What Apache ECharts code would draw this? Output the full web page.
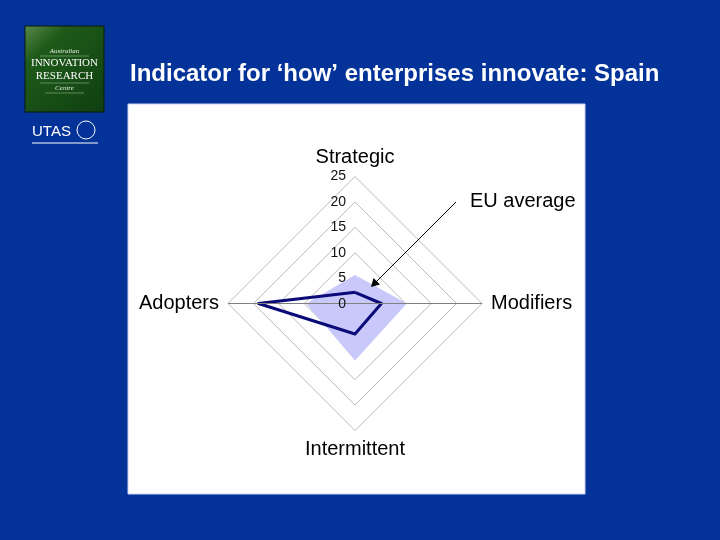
<!DOCTYPE html>
<html>
<head>
<meta charset="utf-8">
<script src="https://cdn.jsdelivr.net/npm/echarts@6/dist/echarts.min.js"></script>
<style>
html,body{margin:0;padding:0;background:#033399;}
#chart{width:720px;height:540px;}
</style>
</head>
<body>
<div id="chart"></div>
<script>
// ECharts radar runs counter-clockwise from the top: Strategic, Adopters, Intermittent, Modifiers
const indicators = ['Strategic', 'Adopters', 'Intermittent', 'Modifiers'];
const spainValues = [2.2, 19.0, 6.0, 5.2];
const euValues = [5.6, 9.6, 11.2, 10.2];
const axisMax = 25;
const minTickLabel = '0';
const titleText = 'Indicator for \u2018how\u2019 enterprises innovate: Spain';
const annotationText = 'EU average';

const CX = 355, CY = 303.5, R = 127;
const chart = echarts.init(document.getElementById('chart'), null, {renderer: 'canvas'});
const labelFont = '14px "Liberation Sans", Arial, sans-serif';

const option = {
  backgroundColor: '#033399',
  animation: false,
  graphic: [
    {type: 'rect', z: -10, shape: {x: 128, y: 104, width: 457, height: 390}, style: {fill: '#ffffff', stroke: '#c8d4f0', lineWidth: 1}},
    {type: 'text', left: 130, top: 62, style: {text: titleText, fill: '#ffffff', font: 'bold 24px "Liberation Sans", Arial, sans-serif'}},
    // AIRC logo
    {type: 'rect', shape: {x: 25, y: 26, width: 79, height: 86}, style: {fill: new echarts.graphic.LinearGradient(0, 0, 1, 1, [{offset: 0, color: '#5a8a4a'}, {offset: 0.25, color: '#1f5a1a'}, {offset: 1, color: '#0f3f10'}]), stroke: '#0a1a0a', lineWidth: 1}},
    {type: 'text', x: 64.5, y: 51, style: {text: 'Australian', fill: '#e8f0e0', font: 'italic 7px "Liberation Serif", serif', align: 'center', verticalAlign: 'middle'}},
    {type: 'text', x: 64.5, y: 63, style: {text: 'INNOVATION', fill: '#ffffff', font: '11px "Liberation Serif", serif', align: 'center', verticalAlign: 'middle'}},
    {type: 'text', x: 64.5, y: 76, style: {text: 'RESEARCH', fill: '#ffffff', font: '11px "Liberation Serif", serif', align: 'center', verticalAlign: 'middle'}},
    {type: 'text', x: 64.5, y: 88, style: {text: 'Centre', fill: '#e8f0e0', font: 'italic 7px "Liberation Serif", serif', align: 'center', verticalAlign: 'middle'}},
    {type: 'line', shape: {x1: 40, y1: 56, x2: 89, y2: 56}, style: {stroke: '#a8c8a0', lineWidth: 0.5}},
    {type: 'line', shape: {x1: 40, y1: 83, x2: 89, y2: 83}, style: {stroke: '#a8c8a0', lineWidth: 0.5}},
    {type: 'line', shape: {x1: 45, y1: 93, x2: 84, y2: 93}, style: {stroke: '#a8c8a0', lineWidth: 0.5}},
    // UTAS logo
    {type: 'text', x: 32, y: 132, style: {text: 'UTAS', fill: '#ffffff', font: '15px "Liberation Sans", Arial, sans-serif', verticalAlign: 'middle'}},
    {type: 'circle', shape: {cx: 86, cy: 130, r: 9}, style: {fill: 'none', stroke: '#ffffff', lineWidth: 1}},
    {type: 'line', shape: {x1: 32, y1: 143, x2: 98, y2: 143}, style: {stroke: '#ffffff', lineWidth: 1}},
    // axis line across
    {type: 'line', z: 5, shape: {x1: CX - R, y1: CY, x2: CX + R, y2: CY}, style: {stroke: '#808080', lineWidth: 1}},
    // centre tick label
    {type: 'text', z: 20, x: CX - 9, y: CY + 1, style: {text: minTickLabel, fill: '#111111', font: labelFont, align: 'right', verticalAlign: 'middle'}},
    // annotation
    {type: 'text', x: 470, y: 201, z: 20, style: {text: annotationText, fill: '#000000', font: '20px "Liberation Sans", Arial, sans-serif', verticalAlign: 'middle'}},
    {type: 'line', z: 20, shape: {x1: 456, y1: 202, x2: 373, y2: 285}, style: {stroke: '#000000', lineWidth: 1}},
    {type: 'polygon', z: 20, shape: {points: [[371, 287], [373.5, 278], [380, 284.5]]}, style: {fill: '#000000'}}
  ],
  radar: {
    center: [CX, CY],
    radius: R,
    startAngle: 90,
    shape: 'polygon',
    splitNumber: 5,
    nameGap: 9,
    axisName: {color: '#000000', fontSize: 20, fontFamily: '"Liberation Sans", Arial, sans-serif'},
    splitArea: {show: false},
    splitLine: {lineStyle: {color: '#8a8a8a', width: 0.6}},
    axisLine: {show: false},
    axisTick: {show: false},
    axisLabel: {show: false},
    indicator: indicators.map((n, i) => ({
      name: n, min: 0, max: axisMax,
      axisLabel: i === 0 ? {show: true, showMinLabel: true, color: '#111111', fontSize: 14, fontFamily: '"Liberation Sans", Arial, sans-serif', margin: 9, padding: [3, 0, 0, 0]} : {show: false}
    }))
  },
  series: [
    {
      type: 'radar',
      symbol: 'none',
      z: 2,
      data: [{value: euValues, name: 'EU average', lineStyle: {width: 0, opacity: 0}, areaStyle: {color: '#c8c8fa', opacity: 1}}]
    },
    {
      type: 'radar',
      symbol: 'none',
      z: 3,
      data: [{value: spainValues, name: 'Spain', lineStyle: {color: '#0a0a78', width: 3}}]
    }
  ]
};
chart.setOption(option);
</script>
</body>
</html>
